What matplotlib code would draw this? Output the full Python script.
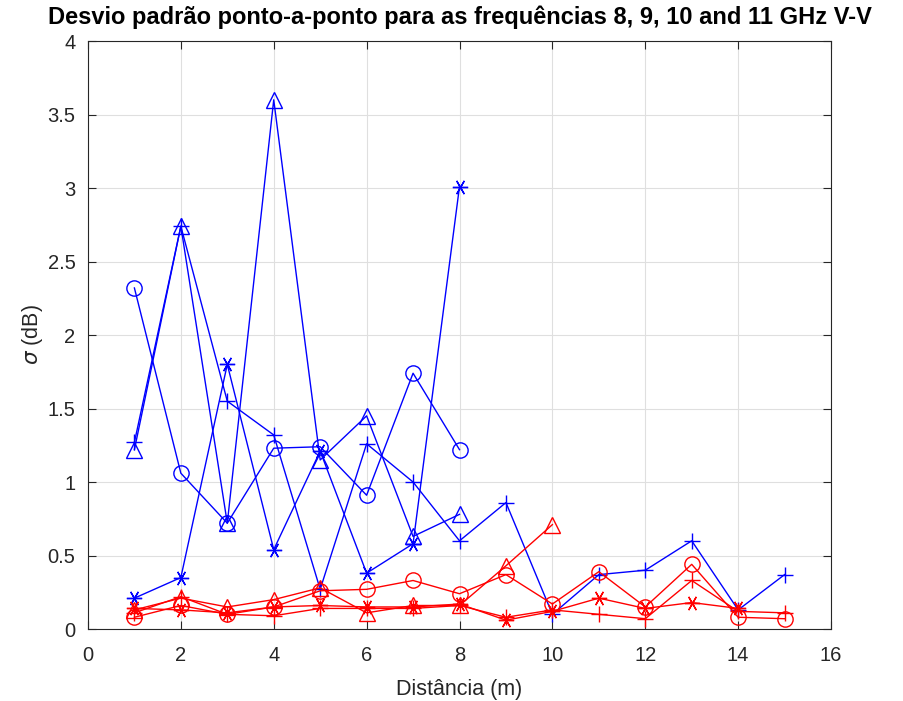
import numpy as np
import matplotlib
matplotlib.use("Agg")
import matplotlib.pyplot as plt

plt.rcParams['font.family'] = ['Liberation Sans', 'DejaVu Sans']

# distancias (m)
d8 = [1, 2, 3, 4, 5, 6, 7, 8]
d15 = list(range(1, 16))
d14 = list(range(1, 15))
d10 = list(range(1, 11))

# series azuis
blue_tri = [1.22, 2.74, 0.72, 3.60, 1.15, 1.45, 0.63, 0.78]
blue_circ = [2.32, 1.06, 0.72, 1.23, 1.24, 0.91, 1.74, 1.22]
blue_star = [0.21, 0.35, 1.80, 0.54, 1.21, 0.38, 0.58, 3.01]
blue_plus = [1.27, 2.74, 1.55, 1.32, 0.27, 1.26, 1.00, 0.60, 0.86, 0.10,
             0.37, 0.40, 0.60, 0.13, 0.37]

# series vermelhas
red_tri = [0.13, 0.21, 0.15, 0.20, 0.28, 0.11, 0.16, 0.16, 0.43, 0.71]
red_circ = [0.08, 0.16, 0.10, 0.15, 0.26, 0.27, 0.33, 0.24, 0.37, 0.17,
            0.39, 0.15, 0.44, 0.08, 0.07]
red_star = [0.14, 0.13, 0.11, 0.15, 0.16, 0.15, 0.15, 0.17, 0.06, 0.12,
            0.21, 0.14, 0.18, 0.14]
red_plus = [0.11, 0.22, 0.10, 0.09, 0.14, 0.14, 0.14, 0.16, 0.08, 0.13,
            0.10, 0.07, 0.33, 0.12, 0.11]

fig = plt.figure(figsize=(9.04, 7.01), dpi=100)
ax = fig.add_axes([0.0973, 0.1027, 0.8220, 0.8388])

star = (6, 2, 30)
kw = dict(lw=1.0, mfc='none', mew=1.0)
ax.plot(d8, blue_tri, '-^', color='#0000ff', ms=12, **kw)
ax.plot(d8, blue_circ, '-o', color='#0000ff', ms=11, **kw)
ax.plot(d8, blue_star, '-', color='#0000ff', marker=star, ms=11, **kw)
ax.plot(d15, blue_plus, '-+', color='#0000ff', ms=12, **kw)

ax.plot(d10, red_tri, '-^', color='#ff0000', ms=12, **kw)
ax.plot(d15, red_circ, '-o', color='#ff0000', ms=11, **kw)
ax.plot(d14, red_star, '-', color='#ff0000', marker=star, ms=11, **kw)
ax.plot(d15, red_plus, '-+', color='#ff0000', ms=12, **kw)

ax.set_xlim(0, 16)
ax.set_ylim(0, 4)
ax.set_xticks(np.arange(0, 17, 2))
ax.set_yticks(np.arange(0, 4.01, 0.5))
ax.set_yticklabels(['0', '0.5', '1', '1.5', '2', '2.5', '3', '3.5', '4'])
ax.grid(True, color='#dfdfdf', lw=0.8)
ax.set_axisbelow(True)
ax.tick_params(direction='in', top=True, right=True, labelsize=14.5,
               colors='#262626', length=6)
ax.tick_params(axis='y', pad=9)
ax.tick_params(axis='x', pad=12)
for s in ax.spines.values():
    s.set_color('#262626')
    s.set_linewidth(0.8)

ax.set_xlabel('Distância (m)', fontsize=15.5, color='#262626', labelpad=10)
ax.set_ylabel(r'$\sigma$ (dB)', fontsize=15.5, color='#262626', labelpad=2)
ax.set_title('Desvio padrão ponto-a-ponto para as frequências 8, 9, 10 and 11 GHz V-V',
             fontsize=17, fontweight='bold', pad=12)

fig.savefig('out.png', dpi=100)
